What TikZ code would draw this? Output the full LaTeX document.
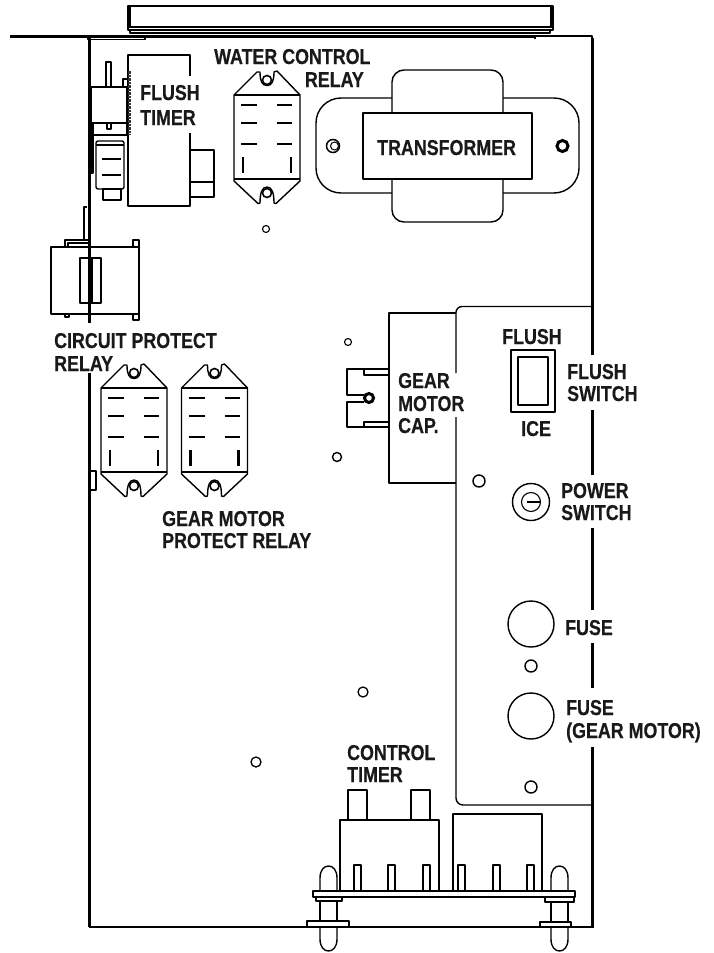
\documentclass[tikz,border=0pt]{standalone}
\usepackage{fontspec}
\setmainfont[FakeStretch=0.83,FakeBold=0.4]{Liberation Sans Bold}
\tikzset{
 lbl/.style={anchor=base west,inner sep=0pt,font=\fontsize{21.5}{21.5}\selectfont,text=black!90},
 thin line/.style={line width=1.1pt,line join=round},
 med line/.style={line width=1.4pt,line join=round},
 thick line/.style={line width=3pt},
 blade/.style={line width=2.4pt},
 hole/.style={line width=1.1pt,fill=white}
}
\newcommand{\relaybody}[2]{%
 \begin{scope}[shift={(#1,#2)}]
  \draw[med line] (-33,0) -- (33,0);
  \draw[med line] (-33,84) -- (33,84);
  \draw[med line] (-33,0) -- (-10,-23) -- (-7,-23) .. controls (-7,-14) and (-5,-9.5) .. (0,-9.5) .. controls (5,-9.5) and (7,-14) .. (7,-23) -- (10,-24) -- (33,0) -- (33,86) -- (9,108.5) -- (7,108) .. controls (7,98) and (5,92) .. (0,92) .. controls (-5,92) and (-7,98) .. (-7,108) -- (-9,108.5) -- (-33,86) -- cycle;
  \draw[line width=1.6pt] (0,-15) circle[radius=4.5];
  \draw[line width=1.6pt] (0,98) circle[radius=4.5];
  \foreach \yy in {10,28,49}{
   \draw[blade] (-26,\yy) -- (-10,\yy);
   \draw[blade] (10,\yy) -- (25,\yy);
  }
  \draw[blade] (-24,62) -- (-24,78);
  \draw[blade] (24,62) -- (24,78);
 \end{scope}}
\begin{document}
\begin{tikzpicture}[x=1pt,y=-1pt]
\useasboundingbox[fill=white] (0,0) rectangle (714,953);
% top bar
\draw[med line] (128,6) rectangle (553,30);
\draw[thin line] (130,6) -- (130,27);
\draw[thin line] (551,6) -- (551,27);
\draw[med line] (128,27) -- (553,27);
\draw[thin line] (130,30) -- (130,33) -- (550,33) -- (550,30);
% cabinet top and walls
\draw[line width=2.8pt] (10,36.5) -- (535,36.5);
\draw[thin line] (88,38) -- (88,39.5) -- (145,39.5) -- (145,37);
\draw[thin line] (535,39) -- (535,36) -- (592,36) -- (592,40);
\draw[thick line] (89,38) -- (89,323);
\draw[thick line] (89,373) -- (89,927);
\draw[thick line] (592.5,38) -- (592.5,355);
\draw[thick line] (592.5,410) -- (592.5,475);
\draw[thick line] (592.5,528) -- (592.5,610);
\draw[thick line] (592.5,643) -- (592.5,688);
\draw[thick line] (592.5,747) -- (592.5,928);
\draw[line width=2.2pt] (89,927) -- (593,927);
% flush timer
\draw[med line] (190,76) -- (190,55) -- (128,55) -- (128,206) -- (190,206) -- (190,133);
\draw[med line] (190,150) -- (214,150) -- (214,197) -- (190,197) -- (190,150);
\draw[thin line] (190,182) -- (214,182);
\draw[line width=3pt,dash pattern=on 2.5pt off 1pt,black!80] (129.5,71) -- (129.5,135);
\draw[med line] (91,87) rectangle (127,123);
\draw[thin line] (106,87) -- (106,62) -- (111,62) -- (111,87);
\draw[thin line] (123,87) -- (123,79) -- (127,79);
\draw[thin line] (93,123) rectangle (127,135);
\draw[thin line] (107,123) rectangle (111,129);
\draw[thin line,fill=black!35] (91,123) rectangle (93,173);
\draw[med line,rounded corners=2pt] (96,141) rectangle (124,189);
\draw[thin line] (96,145) -- (124,145);
\draw[blade] (102,159) -- (121,159);
\draw[blade] (102,175) -- (121,175);
\draw[thin line] (103,189) rectangle (121,200);
\draw[line width=2pt] (103,200) -- (121,200);
% circuit protect relay
\draw[thin line] (84,240) -- (84,207) -- (87,207);
\draw[med line] (51,247) rectangle (139,314);
\draw[med line] (65,247) -- (65,240) -- (88,240);
\draw[thin line] (68,247) -- (68,243) -- (88,243);
\draw[thin line] (133,247) -- (133,240) -- (139,240) -- (139,247);
\draw[med line] (80,258) rectangle (101,303);
\draw[thin line] (92,258) -- (92,303);
\draw[thin line] (65,314) -- (65,317) -- (69,317) -- (69,314);
\draw[thin line] (133,314) -- (133,320) -- (139,320) -- (139,314);
% relays
\relaybody{267}{95}
\relaybody{134}{388}
\relaybody{214.5}{388}
\draw[thin line,fill=white] (90,471) rectangle (96,490);
% transformer
\draw[med line,rounded corners=25pt] (392,98) -- (316,98) -- (316,193) -- (392,193);
\draw[med line,rounded corners=25pt] (503,98) -- (579,98) -- (579,193) -- (503,193);
\draw[med line,rounded corners=12pt] (392,113) -- (392,70) -- (503,70) -- (503,113);
\draw[med line,rounded corners=12pt] (392,179) -- (392,222) -- (503,222) -- (503,179);
\draw[med line] (363,113) rectangle (532,179);
\draw[line width=1.5pt] (333,146) circle[radius=6.5];
\draw[line width=1pt] (334.5,146) circle[radius=4];
\draw[line width=3pt] (562.5,146) circle[radius=5.5];
% small holes
\draw[hole] (266,229) circle[radius=3.5];
\draw[hole] (348,342) circle[radius=3.5];
\draw[line width=1.4pt] (337,457) circle[radius=4.5];
\draw[line width=1.4pt] (479,481) circle[radius=6];
\draw[line width=1.4pt] (531,666) circle[radius=6];
\draw[line width=1.4pt] (531,787) circle[radius=6];
\draw[line width=1.3pt] (363,692) circle[radius=5];
\draw[line width=1.3pt] (256,762) circle[radius=5];
% panel
\draw[med line,rounded corners=6pt] (456,373) -- (456,306.5) -- (592,306.5);
\draw[med line,rounded corners=7pt] (456,417) -- (456,805) -- (592,805);
% gear motor cap
\draw[med line] (456,313) -- (389,313) -- (389,483) -- (456,483);
\draw[med line] (389,369) -- (347,369) -- (347,395) -- (364,395);
\draw[med line] (364,402) -- (347,402) -- (347,427) -- (389,427);
\draw[thin line] (364,369) -- (364,375) -- (389,375);
\draw[thin line] (364,427) -- (364,422) -- (389,422);
\draw[line width=3pt] (369,398) circle[radius=4.5];
% flush switch
\draw[med line] (511,350) rectangle (555,412);
\draw[med line] (518,357) rectangle (548,405);
% power switch
\draw[med line] (531,502) circle[radius=18.5];
\draw[thin line] (531,502) circle[radius=9.5];
\draw[thin line] (527,502) -- (540,502);
% fuses
\draw[med line] (531,624) circle[radius=23];
\draw[med line] (531,716) circle[radius=23];
% control timer
\draw[med line] (340,890) -- (340,820) -- (439,820) -- (439,890);
\draw[med line] (348,820) -- (348,790) -- (367,790) -- (367,820);
\draw[med line] (411,820) -- (411,790) -- (430,790) -- (430,820);
\draw[med line] (453,890) -- (453,814) -- (542,814) -- (542,890);
\foreach \px in {354,388,423,458,493,527}{
 \draw[med line] (\px,890) -- (\px,865) -- (\px+7,865) -- (\px+7,890);
}
% posts
\foreach \qx in {320,551}{
 \draw[med line] (\qx,891) -- (\qx,878) .. controls (\qx,870) and (\qx+4,866) .. (\qx+8.5,866) .. controls (\qx+13,866) and (\qx+17,870) .. (\qx+17,878) -- (\qx+17,891);
 \draw[med line] (\qx,901) -- (\qx,921) (\qx+17,901) -- (\qx+17,921);
 \draw[med line] (\qx,928) -- (\qx,939) .. controls (\qx,947) and (\qx+4,951) .. (\qx+8.5,951) .. controls (\qx+13,951) and (\qx+17,947) .. (\qx+17,939) -- (\qx+17,928);
}
\draw[thin line] (316,897) rectangle (342,901);
\draw[thin line] (545,897) rectangle (574,902);
\draw[thin line,fill=white] (313,891) rectangle (575,897);
\draw[line width=2pt] (313,897) -- (575,897);
\draw[thin line] (307,927) -- (307,921) -- (349,921) -- (349,927);
\draw[thin line] (540,927) -- (540,922) -- (571,922) -- (571,927);
% labels
\node[lbl] (wc) at (214,64) {WATER CONTROL};
\node[lbl,anchor=base east] (wr) at (364,87) {RELAY};
\node[lbl] (ft1) at (140,100) {FLUSH};
\node[lbl] (ft2) at (140,125) {TIMER};
\node[lbl] (tr) at (377,155) {TRANSFORMER};
\node[lbl] (cp1) at (54,348) {CIRCUIT PROTECT};
\node[lbl] (cp2) at (54,371) {RELAY};
\node[lbl] (gm1) at (162,526) {GEAR MOTOR};
\node[lbl] (gm2) at (162,548) {PROTECT RELAY};
\node[lbl] (gc1) at (398,388) {GEAR};
\node[lbl] (gc2) at (398,411) {MOTOR};
\node[lbl] (gc3) at (398,433) {CAP.};
\node[lbl] (fl) at (502,344) {FLUSH};
\node[lbl] (ic) at (521,436) {ICE};
\node[lbl] (fs1) at (567,379) {FLUSH};
\node[lbl] (fs2) at (567,401) {SWITCH};
\node[lbl] (ps1) at (561,498) {POWER};
\node[lbl] (ps2) at (561,520) {SWITCH};
\node[lbl] (fu1) at (565,635) {FUSE};
\node[lbl] (fu2) at (566,715) {FUSE};
\node[lbl] (fu3) at (566,738) {(GEAR MOTOR)};
\node[lbl] (ct1) at (347,760) {CONTROL};
\node[lbl] (ct2) at (347,782) {TIMER};
\end{tikzpicture}
\end{document}
